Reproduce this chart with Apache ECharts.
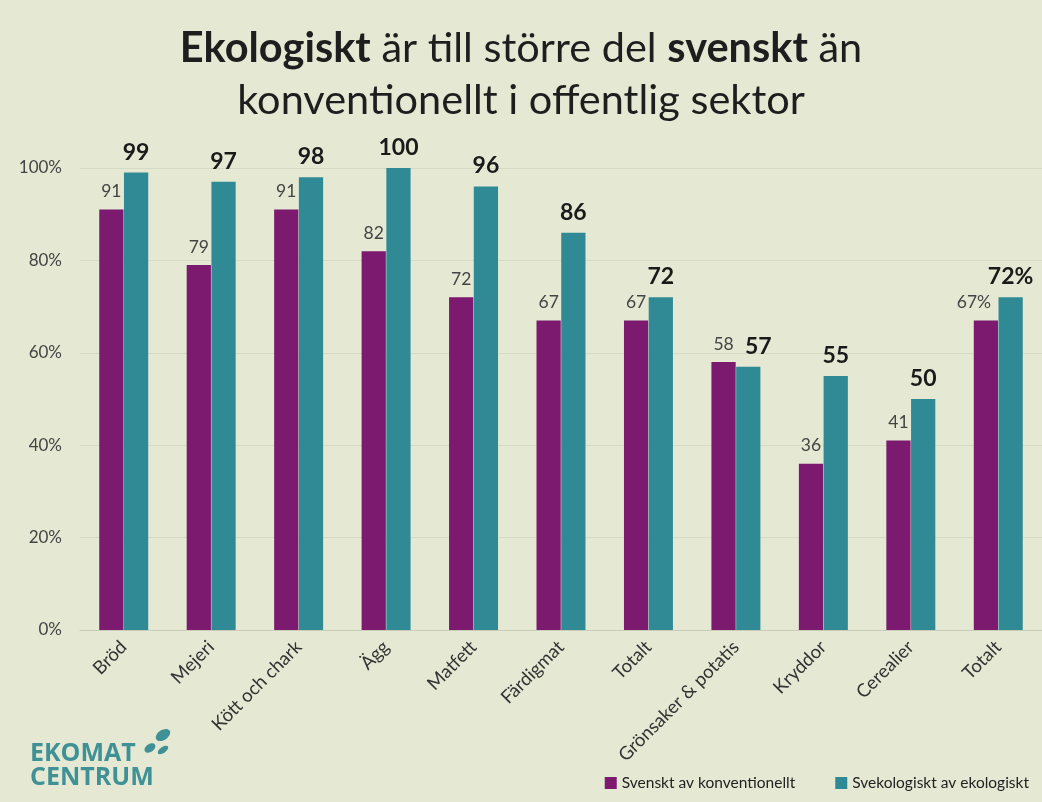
<!DOCTYPE html>
<html><head><meta charset="utf-8">
<script src="https://cdn.jsdelivr.net/npm/echarts@6/dist/echarts.min.js"></script>
<style>html,body{margin:0;padding:0;background:#e5e9d3;}#c{width:1042px;height:802px;}</style>
</head><body><div id="c"></div>
<script>
const categories = ['Bröd','Mejeri','Kött och chark','Ägg','Matfett','Färdigmat','Totalt','Grönsaker & potatis','Kryddor','Cerealier','Totalt'];
const svensktKonv = [91,79,91,82,72,67,67,58,36,41,67];
const svekoEko = [99,97,98,100,96,86,72,57,55,50,72];
const yTicks = [0,20,40,60,80,100];
const seriesNames = ['Svenskt av konventionellt','Svekologiskt av ekologiskt'];
const lastIdx = categories.length - 1;

const chart = echarts.init(document.getElementById('c'));
const FONT = 'Lato, "Open Sans", sans-serif';
const fmt = p => p.dataIndex === lastIdx ? p.value + '%' : String(p.value);
chart.setOption({
  backgroundColor: '#e5e9d3',
  textStyle: {fontFamily: FONT},
  title: {
    left: 'center', top: 18,
    text: '{b|Ekologiskt}{n| är till större del }{b|svenskt}{n| än}\n{n|konventionellt i offentlig sektor}',
    textStyle: {
      fontWeight: 'normal',
      rich: {
        b: {fontSize: 41.5, fontWeight: 'bold', color: '#1e1e1e', fontFamily: FONT, lineHeight: 52},
        n: {fontSize: 41.5, fontWeight: 'normal', color: '#1e1e1e', fontFamily: FONT, lineHeight: 52}
      }
    }
  },
  grid: {left: 80, top: 168, width: 966, height: 462, containLabel: false},
  legend: {
    right: 8, bottom: 6, itemWidth: 12, itemHeight: 12, itemGap: 40,
    icon: 'rect',
    textStyle: {fontSize: 15.5, color: '#222', fontFamily: FONT},
    data: seriesNames
  },
  xAxis: {
    type: 'category', data: categories,
    axisLine: {show: true, lineStyle: {color: '#c9ccb8'}},
    axisTick: {show: false},
    axisLabel: {rotate: 45, fontSize: 18.5, color: '#333', margin: 14, interval: 0, fontFamily: FONT}
  },
  yAxis: {
    type: 'value', min: 0, max: 100, interval: 20,
    axisLabel: {formatter: v => yTicks.includes(v) ? v + '%' : '', fontSize: 17, color: '#444', margin: 18, fontFamily: FONT},
    splitLine: {lineStyle: {color: '#d6dac4'}},
    axisLine: {show: false}, axisTick: {show: false}
  },
  series: [
    {
      name: seriesNames[0], type: 'bar',
      data: svensktKonv.map((v, i) => i === lastIdx ? {value: v, label: {offset: [-12, 0]}} : v),
      barGap: '2%', barCategoryGap: '44%',
      itemStyle: {color: '#7b1a6f'},
      label: {show: true, position: 'top', distance: 9, fontSize: 17.5, color: '#444', fontFamily: FONT, formatter: fmt}
    },
    {
      name: seriesNames[1], type: 'bar',
      data: svekoEko.map((v, i) => i === 7 ? {value: v, label: {offset: [10, 0]}} : v),
      itemStyle: {color: '#2f8a95'},
      label: {show: true, position: 'top', distance: 9, fontSize: 23, fontWeight: 'bold', color: '#1a1a1a', fontFamily: FONT, formatter: fmt}
    }
  ],
  graphic: [
    {type: 'text', left: 30, top: 741, style: {text: 'EKOMAT\nCENTRUM', fontSize: 25, lineHeight: 24, fontWeight: 'bold', fill: '#3f9196', fontFamily: '"Open Sans", sans-serif'}},
    {type: 'ellipse', shape: {cx: 163, cy: 735, rx: 8, ry: 5}, rotation: 0.6, originX: 163, originY: 735, style: {fill: '#3f9196'}},
    {type: 'ellipse', shape: {cx: 150, cy: 748, rx: 6, ry: 4}, rotation: 0.6, originX: 150, originY: 748, style: {fill: '#3f9196'}},
    {type: 'ellipse', shape: {cx: 163, cy: 750, rx: 6, ry: 3}, rotation: 0.6, originX: 163, originY: 750, style: {fill: '#3f9196'}}
  ]
});
</script></body></html>
